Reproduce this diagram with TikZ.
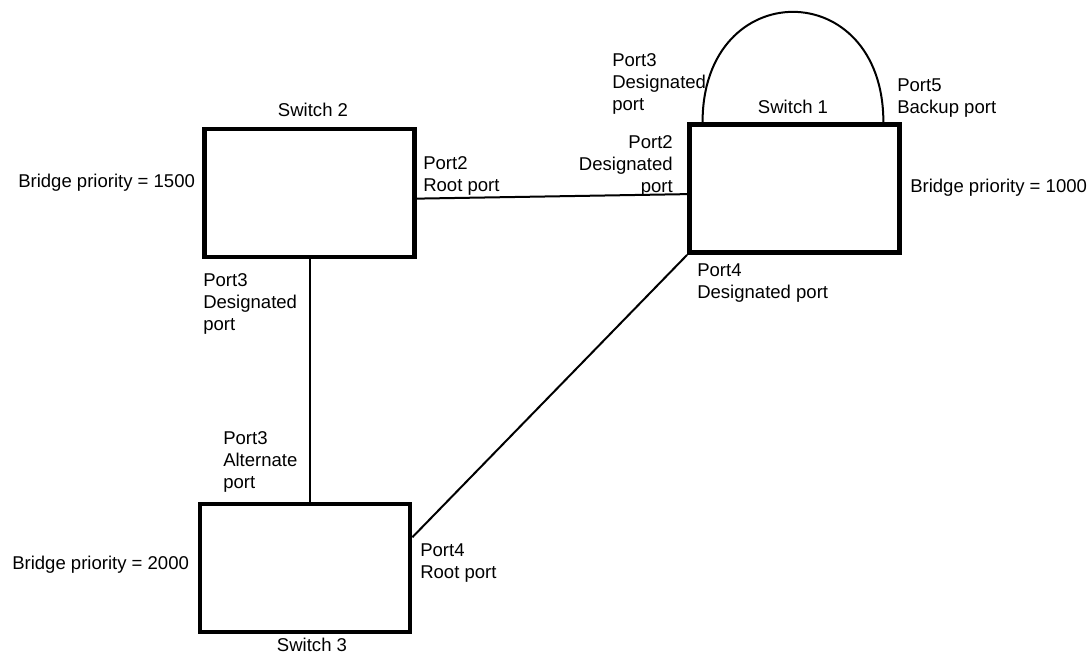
\documentclass[tikz,border=0pt]{standalone}
\usepackage{fontspec}
\setmainfont{Liberation Sans}
\begin{document}
\begin{tikzpicture}[x=0.75pt, y=-0.75pt,
  every node/.style={font=\fontsize{13.9pt}{16.5pt}\selectfont, inner sep=0pt},
  switch/.style={draw, line width=3.6pt, minimum width=157.5pt, minimum height=96pt},
  link/.style={line width=1.5pt},
  portlbl/.style={anchor=north west, align=left}]
\useasboundingbox (0,0) rectangle (1091,656);

% Switch boxes
\node[switch] (sw1) at (794.5,188.5) {};
\node[switch] (sw2) at (309.5,193) {};
\node[switch] (sw3) at (305,568) {};

% Links between switches
\draw[link] (sw2.-3) -- (sw1.183.5);
\draw[link] (sw2.south) -- (sw2.south |- sw3.north);
\draw[link] (sw3.16) -- (sw1.south west);

% Loop on switch 1 (Port3 to Port5)
\coordinate (s1p3) at ([xshift=11.6pt]sw1.north west);
\coordinate (s1p5) at ([xshift=-13.9pt]sw1.north east);
\draw[link] (s1p3) .. controls +(0,-147) and +(0,-147) .. (s1p5);

% Switch names and bridge priorities
\foreach \nm/\x/\y/\anc/\txt in {
  name1/793/107/center/{Switch 1},
  name2/313/110/center/{Switch 2},
  name3/312/645/center/{Switch 3},
  prio1/910/188/west/{Bridge priority = 1000},
  prio2/18/183/west/{Bridge priority = 1500},
  prio3/12/565/west/{Bridge priority = 2000}
} {
  \node[anchor=\anc] (\nm) at (\x,\y) {\txt};
}

% Port roles
\node[portlbl] (s1p3lbl) at (612,53.5) {Port3\\Designated\\port};
\node[portlbl] (s1p5lbl) at (897,78.5) {Port5\\Backup port};
\node[portlbl] (s1p4lbl) at (697,263.5) {Port4\\Designated port};
\node[anchor=north east, align=right] (s1p2lbl) at (673,135.5) {Port2\\Designated\\port};
\node[portlbl] (s2p2lbl) at (423,156.5) {Port2\\Root port};
\node[portlbl] (s2p3lbl) at (203,273.5) {Port3\\Designated\\port};
\node[portlbl] (s3p3lbl) at (223,431.5) {Port3\\Alternate\\port};
\node[portlbl] (s3p4lbl) at (420,543.5) {Port4\\Root port};
\end{tikzpicture}
\end{document}
